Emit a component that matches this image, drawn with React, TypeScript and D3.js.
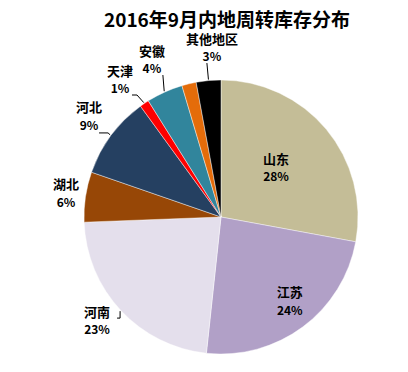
import * as d3 from "d3";

const regions = ["山东", "江苏", "河南", "湖北", "河北", "天津", "安徽", "", "其他地区"];
const shares = [27.9, 23.8, 22.7, 5.9, 9.7, 1.1, 4.3, 1.7, 2.9];
const pctLabels = ["28%", "24%", "23%", "6%", "9%", "1%", "4%", "", "3%"];
const colors = ["#C4BD97", "#B1A0C7", "#E4DFEC", "#974706", "#254061", "#FF0000", "#31859C", "#E46C0A", "#000000"];
const title = "2016年9月内地周转库存分布";

const W = 408,
  H = 372,
  cx = 221,
  cy = 217,
  R = 137;

// label centre, polar: [degrees clockwise from 12 o'clock, radius]
const labelAt: [number, number][] = [
  [48.9, 73], [141.3, 110], [229.7, 162.5], [278.1, 156.6], [306.9, 165],
  [323.4, 169.4], [336.1, 170.6], [0, 0], [356.9, 168.2],
];
// leader line: [start dx, start dy from label centre, horizontal elbow length]
const leaders: ([number, number, number] | null)[] = [
  null, null, [20, -4, 3], null, [10, 15, 9], [12, 14, 5], [11, 14, 0], null, [-5, 14, 0],
];

const polar = (deg: number, r: number): [number, number] => {
  const a = (deg * Math.PI) / 180;
  return [cx + r * Math.sin(a), cy - r * Math.cos(a)];
};

export default function App() {
  const pie = d3.pie<number>().sort(null).value((d) => d)(shares);
  const arc = d3.arc<d3.PieArcDatum<number>>().innerRadius(0).outerRadius(R);
  const font = "'Noto Sans CJK SC', 'Noto Sans', sans-serif";

  return (
    <svg width={W} height={H} style={{ position: "absolute", left: 0, top: 0, background: "#fff" }}>
      <text x={227} y={27} textAnchor="middle" fontFamily={font} fontWeight="bold" fontSize={19} fill="#000">
        {title}
      </text>

      <g transform={`translate(${cx},${cy})`}>
        {pie.map((p, i) => (
          <path key={i} d={arc(p) ?? ""} fill={colors[i]} stroke="#fff" strokeWidth={0.6} strokeOpacity={0.7} />
        ))}
      </g>

      {pie.map((p, i) => {
        const ld = leaders[i];
        if (!ld || !regions[i]) return null;
        const mid = (((p.startAngle + p.endAngle) / 2) * 180) / Math.PI;
        const [lx, ly] = polar(labelAt[i][0], labelAt[i][1]);
        const end = polar(mid, R + 1);
        const sx = lx + ld[0],
          sy = ly + ld[1];
        const ex = sx + Math.sign(end[0] - sx) * ld[2];
        return (
          <polyline
            key={"l" + i}
            points={`${sx},${sy} ${ex},${sy} ${end[0]},${end[1]}`}
            fill="none"
            stroke="#000"
            strokeWidth={1}
          />
        );
      })}

      {regions.map((name, i) => {
        if (!name) return null;
        const [lx, ly] = polar(labelAt[i][0], labelAt[i][1]);
        return (
          <g key={"t" + i} fontFamily={font} fontWeight="bold" fontSize={13} fill="#000" textAnchor="middle">
            <text x={lx} y={ly - 9} dominantBaseline="middle">
              {name}
            </text>
            <text x={lx} y={ly + 9} dominantBaseline="middle" fontSize={12}>
              {pctLabels[i]}
            </text>
          </g>
        );
      })}
    </svg>
  );
}
